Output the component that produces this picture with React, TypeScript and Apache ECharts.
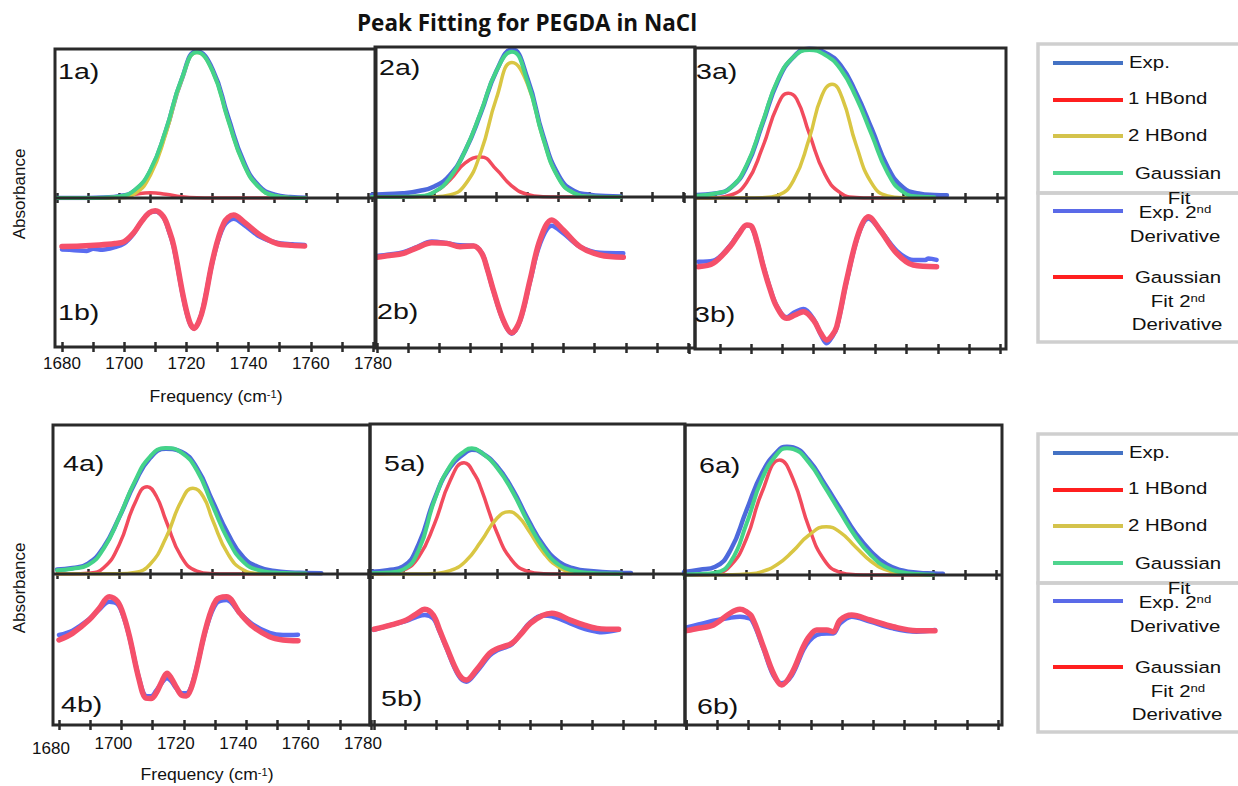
import React, { useEffect, useRef } from "react";
import * as echarts from "echarts";

type Pt = [number, number];

// ---------- texts ----------
const TITLE = "Peak Fitting for PEGDA in NaCl";
const Y_TITLE = "Absorbance";
const X_TITLE = "Frequency (cm";
const X_TITLE_SUP = "-1";
const X_MIN = 1680;
const X_MAX = 1780;
const X_STEP = 10;
const TICK_LABELS = [1680, 1700, 1720, 1740, 1760, 1780];
const SERIES_NAMES = ["Exp.", "1 HBond", "2 HBond", "Gaussian Fit", "Exp. 2nd Derivative", "Gaussian Fit 2nd Derivative"];
const PANEL_TAGS_A = ["1a)", "2a)", "3a)", "4a)", "5a)", "6a)"];
const PANEL_TAGS_B = ["1b)", "2b)", "3b)", "4b)", "5b)", "6b)"];

// ---------- data (x = frequency cm-1, y = % of sub-panel height) ----------
const P1A_EXP: Pt[] = [[1680,0],[1685,0],[1690,0],[1695,0.3],[1700,1.2],[1705,5],[1710,18],[1715,45],[1720,79],[1725,98.5],[1730,86.5],[1735,54.5],[1740,24.5],[1745,8],[1750,2.2],[1755,0.6],[1760,0.2]];
const P1A_HB1: Pt[] = [[1680,0],[1690,0],[1695,0],[1700,0.9],[1705,2.5],[1710,3.5],[1715,2.5],[1720,0.9],[1725,0.15],[1730,0],[1740,0],[1750,0],[1760,0]];
const P1A_HB2: Pt[] = [[1680,0],[1690,0],[1695,0],[1700,0.2],[1705,2.9],[1710,15.2],[1715,43.2],[1720,78.6],[1725,97.6],[1730,85.2],[1735,52.5],[1740,22.9],[1745,7.1],[1750,1.5],[1755,0.2],[1760,0]];
const P1A_FIT: Pt[] = [[1680,0],[1690,0],[1695,0.2],[1700,1.1],[1705,5.4],[1710,18.7],[1715,45.7],[1720,79.5],[1725,97.8],[1730,85.2],[1735,52.5],[1740,22.9],[1745,7.1],[1750,1.5],[1755,0.2],[1760,0]];
const P1B_EXP2: Pt[] = [[1680,65.5],[1684,65],[1688,64.5],[1690,66],[1693,65.3],[1697,67],[1700,69.5],[1703,76],[1705.5,84],[1708,90],[1710,91],[1712.6,87],[1714.5,77],[1716,66.5],[1719,33],[1721,16.5],[1722.5,12.5],[1724,17],[1725.5,27.5],[1728.7,60],[1732,81],[1735.2,86],[1738.5,82],[1743.7,74],[1749,70],[1754,69],[1758,68.5]];
const P1B_FIT2: Pt[] = [[1680,67.5],[1686,67.8],[1692,68.5],[1697,69.5],[1700,70.7],[1703,76.5],[1705.5,84],[1708,90],[1710,91.5],[1712.6,87.5],[1714.5,78],[1716,67.3],[1719,33.8],[1721,17],[1722.5,12.5],[1724,17],[1725.5,27],[1728.7,60.6],[1732,83],[1735.2,88.6],[1738.5,84],[1743.7,75.2],[1749,69.6],[1754,68.2],[1758,67.8]];

const P2A_EXP: Pt[] = [[1680,1.5],[1685,2],[1690,2.5],[1695,4],[1700,7],[1705,14.5],[1710,31],[1715,56],[1720,84],[1725,98.5],[1730,79],[1735,41],[1740,14.5],[1745,4],[1750,1.5],[1755,0.6],[1760,0.3]];
const P2A_HB1: Pt[] = [[1680,0],[1690,0],[1695,0.5],[1700,3.2],[1705,11.2],[1710,22.7],[1715,26.7],[1720,18.3],[1725,7.3],[1730,1.7],[1735,0.2],[1740,0],[1750,0],[1760,0]];
const P2A_HB2: Pt[] = [[1680,0],[1690,0],[1700,0.2],[1705,1.4],[1710,8.4],[1715,29.9],[1720,65.8],[1725,89.6],[1730,75.3],[1735,39.1],[1740,12.5],[1745,2.5],[1750,0.3],[1755,0],[1760,0]];
const P2A_FIT: Pt[] = [[1680,0],[1685,0],[1690,0.1],[1695,0.5],[1700,3.4],[1705,12.6],[1710,31.1],[1715,56.6],[1720,84.1],[1725,96.9],[1730,77],[1735,39.3],[1740,12.5],[1745,2.5],[1750,0.3],[1755,0],[1760,0]];
const P2B_EXP2: Pt[] = [[1680,61],[1684,62],[1688.5,63.5],[1693,67],[1697.6,70.5],[1702.4,69.5],[1706.7,68],[1711,67.8],[1713.7,63],[1715.5,52],[1717.4,38],[1720.6,18],[1723.3,9.5],[1726,18],[1729.2,44],[1732.4,69],[1736.2,81],[1739.9,76],[1745.3,67],[1751.7,63],[1759.2,62.7]];
const P2B_FIT2: Pt[] = [[1680,60.1],[1684,61.2],[1688.5,62.7],[1693,66.5],[1697.6,69.7],[1702.4,69.3],[1706.7,67.1],[1711,67.5],[1713.7,62.7],[1715.5,52],[1717.4,38.4],[1720.6,18.5],[1723.3,10.1],[1726,18.5],[1729.2,45],[1732.4,71.5],[1736.2,84.8],[1739.9,78.1],[1745.3,67.1],[1751.7,61.6],[1759.2,60.1]];

const P3A_EXP: Pt[] = [[1684,2],[1690,3],[1695,7],[1700,21],[1705,49],[1710,78],[1715,94],[1720,99.5],[1725,97],[1730,88.5],[1735,70],[1740,46],[1745,21],[1750,7],[1755,3],[1760,2],[1764,1.8]];
const P3A_HB1: Pt[] = [[1684,0],[1690,0.2],[1695,2],[1700,10.3],[1705,33.2],[1710,62.2],[1713.3,69.8],[1716,66],[1720,43.1],[1725,15.9],[1730,3.4],[1735,0.4],[1740,0],[1750,0],[1760,0]];
const P3A_HB2: Pt[] = [[1684,0],[1700,0],[1705,0.2],[1710,1.8],[1715,11.7],[1720,39.6],[1724,68],[1727.3,75.8],[1730.5,67],[1735,35.3],[1740,9.7],[1745,1.4],[1750,0.1],[1760,0]];
const P3A_FIT: Pt[] = [[1684,1.5],[1690,3],[1695,7],[1700,22],[1705,50],[1710,79],[1715,94],[1720,98.7],[1725,95.5],[1730,86],[1735,67],[1740,42],[1745,17],[1750,4],[1755,1],[1760,0.5]];
const P3B_EXP2: Pt[] = [[1683,57.8],[1687.8,58.5],[1693.2,68.5],[1696,76.5],[1698.6,82],[1700.2,80.5],[1702,70],[1703.9,55],[1706,40.5],[1708.2,28.5],[1711.4,21],[1714.1,24.5],[1716.8,26.5],[1720,20],[1722.5,9],[1724.3,3.8],[1726,8],[1727.5,14],[1730.7,45],[1734.5,76],[1737.7,86.5],[1741.4,79],[1746.8,65],[1752.1,59],[1756,59],[1757,60],[1759.6,59]];
const P3B_FIT2: Pt[] = [[1683,54.5],[1687.8,56.8],[1693.2,67.8],[1696,76],[1698.6,82.1],[1700.2,81],[1702,70],[1703.9,54.5],[1706,40],[1708.2,28],[1711.4,20.3],[1714.1,22.5],[1716.8,24.7],[1720,19.2],[1722.5,10],[1724.3,6],[1726,9],[1727.5,14.8],[1730.7,45.7],[1734.5,76.6],[1737.7,87.6],[1741.4,78.8],[1746.8,63.4],[1752.1,55.6],[1759.6,54.5]];

const P4A_EXP: Pt[] = [[1680,3],[1685,4],[1690,7],[1695,18],[1700,38],[1705,61],[1710,78],[1715,84],[1720,82],[1725,71],[1730,49],[1735,27],[1740,11],[1745,4.5],[1750,2],[1755,1],[1760,0.7],[1765,0.5]];
const P4A_HB1: Pt[] = [[1680,0],[1685,0],[1690,0.5],[1695,4.2],[1700,19.7],[1705,47.3],[1709,58.6],[1712,52],[1715,36.1],[1720,11.5],[1725,1.9],[1730,0.2],[1735,0],[1760,0]];
const P4A_HB2: Pt[] = [[1680,0],[1700,0.1],[1705,1],[1710,6.7],[1715,24.1],[1720,49.1],[1723.7,57.5],[1727,52],[1730,36.4],[1735,13.3],[1740,2.7],[1745,0.3],[1750,0],[1760,0]];
const P4A_FIT: Pt[] = [[1680,2.5],[1685,3.5],[1690,6],[1695,17],[1700,38],[1705,62],[1710,79],[1715,84.5],[1720,81.5],[1725,69.5],[1730,46],[1735,23],[1740,8],[1745,2.5],[1750,1],[1755,0.5],[1760,0.3]];
const P4B_EXP2: Pt[] = [[1680,59.6],[1684.3,62.5],[1689.6,70],[1692.9,76.5],[1696.1,81.7],[1698.8,80],[1700.8,71],[1702.6,58],[1705.7,30.5],[1707.9,19.2],[1709.5,19],[1711.1,22.5],[1713,28],[1714.6,31],[1716,29],[1717.5,24.5],[1719.5,21],[1720.8,21],[1722.3,25],[1724,37],[1727.2,64],[1730.4,80.5],[1733.7,82.8],[1738,74],[1742.2,66.5],[1747.5,61],[1751.8,59.6],[1756.6,59.8]];
const P4B_FIT2: Pt[] = [[1680,56.3],[1684.3,60.7],[1689.6,69.5],[1692.9,77.3],[1696.1,85],[1698.8,81.7],[1700.8,72],[1702.6,58.5],[1705.7,29.8],[1707.9,17.7],[1709.5,17.5],[1711.1,21],[1713,29],[1714.6,34.2],[1716,31],[1717.5,25.4],[1719.5,19.5],[1720.8,19.2],[1722.3,24],[1724,36.4],[1727.2,65.1],[1730.4,82.8],[1733.7,85],[1738,74],[1742.2,65.1],[1747.5,58.5],[1751.8,56.3],[1756.6,55.8]];

const P5A_EXP: Pt[] = [[1680,1.5],[1685,2.5],[1690,5],[1695,20],[1700,50],[1705,71],[1710,81],[1712,82.9],[1715,81],[1720,72],[1725,56.5],[1730,36.5],[1735,19],[1740,8],[1745,3.5],[1750,2],[1755,1.2],[1760,0.8],[1763,0.6]];
const P5A_HB1: Pt[] = [[1680,0],[1685,0.4],[1690,2.5],[1695,11.5],[1700,33.3],[1705,62],[1709.5,74.2],[1713,66],[1715,56.7],[1720,27.8],[1725,8.8],[1730,1.8],[1735,0.2],[1740,0],[1760,0]];
const P5A_HB2: Pt[] = [[1680,0],[1695,0],[1700,0.4],[1705,2.2],[1710,8.5],[1715,21.9],[1720,37],[1724,41.5],[1727,38],[1730,29.7],[1735,14.1],[1740,4.4],[1745,0.9],[1750,0.1],[1760,0]];
const P5A_FIT: Pt[] = [[1680,0.5],[1685,1],[1690,3],[1695,16],[1700,49],[1705,72],[1710,82.5],[1712,83.8],[1715,81],[1720,71],[1725,55],[1730,34.5],[1735,17],[1740,6],[1745,2],[1750,0.8],[1755,0.3],[1760,0.1]];
const P5B_EXP2: Pt[] = [[1680,63],[1685,66],[1690.4,69],[1693.5,71.5],[1696.3,72.8],[1699,70.5],[1701,62],[1703.2,51],[1707,33],[1709.6,28.7],[1712.8,35],[1717.1,46],[1719.5,49.5],[1721.5,51],[1724.2,53.5],[1727,60.5],[1730.1,68],[1734,72.5],[1737,72],[1742.9,67.3],[1747,64],[1751.5,61.8],[1753,61.4],[1758.4,63]];
const P5B_FIT2: Pt[] = [[1680,63.4],[1685,66],[1690.4,69.5],[1693.5,73.5],[1696.3,76.6],[1699,72.8],[1701,63],[1703.2,51.9],[1707,34.2],[1709.6,29.8],[1712.8,36.4],[1717.1,47.5],[1719.5,50.5],[1721.5,51.9],[1724.2,54.1],[1727,60],[1730.1,67.3],[1734,72.5],[1737,74],[1742.9,69.5],[1747,66.5],[1751.5,64],[1758.4,63.4]];

const P6A_EXP: Pt[] = [[1680,2],[1685,3.5],[1690,5.5],[1695,17],[1700,43],[1705,68],[1710,82.5],[1713,85.5],[1715,85],[1720,76.5],[1725,61],[1730,44.5],[1735,28],[1740,15.5],[1745,7],[1750,3],[1755,1.5],[1760,1],[1763,0.8]];
const P6A_HB1: Pt[] = [[1680,0],[1685,0.1],[1690,1],[1695,6.4],[1700,24.2],[1705,55.3],[1710.7,76.7],[1715,63.7],[1720,32.1],[1725,9.8],[1730,1.8],[1735,0.2],[1740,0],[1760,0]];
const P6A_HB2: Pt[] = [[1680,0],[1695,0.1],[1700,0.6],[1705,2.3],[1710,7.2],[1715,16.1],[1720,26.5],[1725.6,32.2],[1730,28.6],[1735,18.7],[1740,9],[1745,3.2],[1750,0.8],[1755,0.2],[1760,0]];
const P6A_FIT: Pt[] = [[1680,0.3],[1685,0.6],[1690,1.5],[1695,9],[1700,34],[1705,64],[1710,81],[1713,84.5],[1715,84],[1720,75],[1725,59],[1730,42],[1735,25.5],[1740,13],[1745,5],[1750,1.8],[1755,0.6],[1760,0.2]];
const P6B_EXP2: Pt[] = [[1680.2,65.1],[1684,67],[1688.8,69.5],[1694.1,71.5],[1697.3,72.2],[1699,71.8],[1701.1,70],[1704.8,51],[1708,33],[1710.7,27.8],[1713.9,33],[1717.6,50],[1719.5,56],[1721.9,60],[1725.1,61],[1727.2,61],[1729.4,67.8],[1733.1,72.2],[1739,68.9],[1746.4,64.4],[1753.9,62.2],[1759.8,63.3]];
const P6B_FIT2: Pt[] = [[1680.2,62.9],[1684,64.5],[1688.8,66.7],[1694.1,74.5],[1697.3,77.1],[1699,76],[1701.1,72.2],[1704.8,52.2],[1708,34.5],[1710.7,26.7],[1713.9,34.5],[1717.6,52.2],[1719.5,59],[1721.9,63.3],[1725.1,63.3],[1727.2,62.2],[1729.4,70],[1733.1,73.3],[1739,70],[1746.4,65.5],[1753.9,62.9],[1759.8,62.9]];

const PANEL_DATA = [
  { exp: P1A_EXP, hb1: P1A_HB1, hb2: P1A_HB2, fit: P1A_FIT, exp2: P1B_EXP2, fit2: P1B_FIT2 },
  { exp: P2A_EXP, hb1: P2A_HB1, hb2: P2A_HB2, fit: P2A_FIT, exp2: P2B_EXP2, fit2: P2B_FIT2 },
  { exp: P3A_EXP, hb1: P3A_HB1, hb2: P3A_HB2, fit: P3A_FIT, exp2: P3B_EXP2, fit2: P3B_FIT2 },
  { exp: P4A_EXP, hb1: P4A_HB1, hb2: P4A_HB2, fit: P4A_FIT, exp2: P4B_EXP2, fit2: P4B_FIT2 },
  { exp: P5A_EXP, hb1: P5A_HB1, hb2: P5A_HB2, fit: P5A_FIT, exp2: P5B_EXP2, fit2: P5B_FIT2 },
  { exp: P6A_EXP, hb1: P6A_HB1, hb2: P6A_HB2, fit: P6A_FIT, exp2: P6B_EXP2, fit2: P6B_FIT2 },
];

// ---------- layout & style ----------
const FONT = "'Liberation Sans', Arial, sans-serif";
const INK = "#2a2a2a";
const C_EXP = "#4d69dc";
const C_HB1 = "#f24b5d";
const C_HB2 = "#d9c643";
const C_FIT = "#44d389";
const C_EXP2 = "#5a6cf0";
const C_FIT2 = "#f5506a";
const LEGEND_COLORS = ["#4472c4", "#ff1f1f", "#d4c34c", "#4fd48e", "#5a6ae8", "#ff1f1f"];

const PANELS = [
  { f: { l: 55, r: 376, t: 49, m: 198, b: 347 }, aL: 57, aW: 311, bL: 62, bW: 311, lab: 1, tagA: [58, 71], tagB: [58, 312] },
  { f: { l: 375, r: 695, t: 47, m: 197, b: 348 }, aL: 372, aW: 311, bL: 377, bW: 311, lab: 0, tagA: [379, 67], tagB: [377, 311] },
  { f: { l: 695, r: 1006, t: 48, m: 198, b: 349 }, aL: 684, aW: 313, bL: 689, bW: 311, lab: 0, tagA: [696, 71], tagB: [694, 314] },
  { f: { l: 53, r: 370, t: 425, m: 574, b: 725 }, aL: 57, aW: 311, bL: 59, bW: 312, lab: 2, tagA: [63, 463], tagB: [61, 704] },
  { f: { l: 370, r: 685, t: 424, m: 574, b: 725 }, aL: 372, aW: 312, bL: 374, bW: 312, lab: 0, tagA: [384, 463], tagB: [381, 698] },
  { f: { l: 685, r: 1002, t: 425, m: 575, b: 725 }, aL: 684, aW: 312, bL: 686, bW: 312, lab: 0, tagA: [699, 465], tagB: [697, 706] },
];

function txt(text: string, x: number, y: number, o: any = {}) {
  const align = o.align || "left";
  return {
    type: "text",
    x,
    y,
    z: 30,
    rotation: o.rotation || 0,
    scaleX: o.sx || 1,
    silent: true,
    style: {
      text,
      fill: o.fill || "#111",
      fontSize: o.size || 16,
      fontFamily: o.family || FONT,
      fontWeight: o.weight || "normal",
      align,
      textAlign: align,
      verticalAlign: "middle",
      textVerticalAlign: "middle",
      rich: o.rich,
    },
  };
}

function buildOption() {
  const grid: any[] = [];
  const xAxis: any[] = [];
  const yAxis: any[] = [];
  const series: any[] = [];
  const graphic: any[] = [];

  const tickLine = { color: INK, width: 2.5 };
  const mkX = (gi: number, inside: boolean, lab: number) => {
    let axisLabel: any = { show: false };
    if (lab && !inside) {
      axisLabel = {
        show: true,
        fontSize: 17,
        fontFamily: FONT,
        color: "#111",
        margin: lab === 1 ? 8 : 10,
        padding: lab === 2 ? [0, 16, 0, 0] : 0,
        formatter: (v: number) =>
          TICK_LABELS.indexOf(v) >= 0 ? (lab === 2 && v === 1680 ? `{lo|${v}}` : `${v}`) : "",
        rich: { lo: { fontSize: 17, fontFamily: FONT, color: "#111", padding: [5, 0, 0, 0] } },
      };
    }
    return {
      type: "value",
      gridIndex: gi,
      min: X_MIN,
      max: X_MAX,
      interval: X_STEP,
      position: "bottom",
      axisLine: { show: false, onZero: false },
      splitLine: { show: false },
      axisTick: { show: true, inside, length: 5, lineStyle: tickLine },
      axisLabel,
    };
  };

  PANELS.forEach((p, i) => {
    const f = p.f;
    grid.push({ left: p.aL, width: p.aW, top: f.t, height: f.m - f.t, outerBoundsMode: "none" });
    grid.push({ left: p.bL, width: p.bW, top: f.m, height: f.b - f.m, outerBoundsMode: "none" });
    xAxis.push(mkX(2 * i, false, 0));
    xAxis.push(mkX(2 * i, true, 0));
    xAxis.push(mkX(2 * i + 1, false, p.lab));
    xAxis.push(mkX(2 * i + 1, true, 0));
    yAxis.push({ type: "value", gridIndex: 2 * i, min: 0, max: 100, show: false });
    yAxis.push({ type: "value", gridIndex: 2 * i + 1, min: 0, max: 100, show: false });

    const d = PANEL_DATA[i];
    const mk = (name: string, data: Pt[], top: boolean, color: string, width: number, z: number) => ({
      type: "line",
      name,
      data,
      xAxisIndex: top ? 4 * i : 4 * i + 2,
      yAxisIndex: top ? 2 * i : 2 * i + 1,
      showSymbol: false,
      symbol: "none",
      smooth: top ? 0.5 : 0.35,
      silent: true,
      lineStyle: { color, width, cap: "round", join: "round" },
      z,
    });
    series.push(mk(SERIES_NAMES[0], d.exp, true, C_EXP, 4.5, 2));
    series.push(mk(SERIES_NAMES[1], d.hb1, true, C_HB1, 3.5, 3));
    series.push(mk(SERIES_NAMES[2], d.hb2, true, C_HB2, 3.5, 3));
    series.push(mk(SERIES_NAMES[3], d.fit, true, C_FIT, 4, 4));
    series.push(mk(SERIES_NAMES[4], d.exp2, false, C_EXP2, 4.5, 2));
    series.push(mk(SERIES_NAMES[5], d.fit2, false, C_FIT2, 5.5, 3));

    // frame
    graphic.push({
      type: "rect",
      z: 20,
      silent: true,
      shape: { x: f.l, y: f.t, width: f.r - f.l, height: f.b - f.t },
      style: { fill: "none", stroke: INK, lineWidth: 3 },
    });
    graphic.push({
      type: "line",
      z: 20,
      silent: true,
      shape: { x1: f.l, y1: f.m, x2: f.r, y2: f.m },
      style: { stroke: INK, lineWidth: 3 },
    });
    graphic.push(txt(PANEL_TAGS_A[i], p.tagA[0], p.tagA[1], { size: 22, sx: 1.3 }));
    graphic.push(txt(PANEL_TAGS_B[i], p.tagB[0], p.tagB[1], { size: 22, sx: 1.3 }));
  });

  // title
  graphic.push(txt(TITLE, 527, 22, { size: 22.5, weight: "bold", family: "'Open Sans', 'Noto Sans', sans-serif", align: "center" }));

  // axis titles
  const supRich = {
    a: { fontSize: 16, fontFamily: FONT, color: "#111", fill: "#111" },
    s: { fontSize: 10, fontFamily: FONT, color: "#111", fill: "#111", verticalAlign: "top" },
  };
  [[216, 397], [207, 775]].forEach(([x, y]) => {
    graphic.push(txt(`{a|${X_TITLE}}{s|${X_TITLE_SUP}}{a|)}`, x, y, { align: "center", sx: 1.1, rich: supRich }));
  });
  [[19, 194], [19, 588]].forEach(([x, y]) => {
    graphic.push(txt(Y_TITLE, x, y, { align: "center", size: 17, rotation: Math.PI / 2 }));
  });

  // legends
  const legRich = {
    t: { fontSize: 17, fontFamily: FONT, color: "#111", fill: "#111" },
    s: { fontSize: 11, fontFamily: FONT, color: "#111", fill: "#111", verticalAlign: "top" },
  };
  const lineYs = [63, 100, 136, 173, 211, 277];
  const legTexts: any[] = [
    [SERIES_NAMES[0], 1129, 62, "left"],
    [SERIES_NAMES[1], 1128, 98, "left"],
    [SERIES_NAMES[2], 1128, 135, "left"],
    ["Gaussian", 1178, 173, "center"],
    ["Fit", 1179, 198, "center"],
    ["{t|Exp. 2}{s|nd}", 1175, 212, "center"],
    ["Derivative", 1175, 236, "center"],
    ["Gaussian", 1178, 277, "center"],
    ["{t|Fit 2}{s|nd}", 1178, 301, "center"],
    ["Derivative", 1177, 324, "center"],
  ];
  [0, 390].forEach((dy) => {
    graphic.push({ type: "rect", z: 15, silent: true, shape: { x: 1038, y: 44 + dy, width: 215, height: 149 }, style: { fill: "none", stroke: "#cfcfcf", lineWidth: 3.5 } });
    graphic.push({ type: "rect", z: 15, silent: true, shape: { x: 1038, y: 193 + dy, width: 215, height: 149 }, style: { fill: "none", stroke: "#cfcfcf", lineWidth: 3.5 } });
    lineYs.forEach((ly, k) => {
      graphic.push({ type: "line", z: 16, silent: true, shape: { x1: 1053, y1: ly + dy, x2: 1123, y2: ly + dy }, style: { stroke: LEGEND_COLORS[k], lineWidth: 4 } });
    });
    legTexts.forEach(([t, x, y, al]) => {
      graphic.push(txt(t, x, y + dy, { size: 17, sx: 1.2, align: al, rich: legRich }));
    });
  });

  return {
    animation: false,
    backgroundColor: "#ffffff",
    grid,
    xAxis,
    yAxis,
    series,
    graphic: { elements: graphic },
  };
}

export default function App() {
  const ref = useRef<HTMLDivElement>(null);
  useEffect(() => {
    if (!ref.current) return;
    const chart = echarts.init(ref.current, null, { renderer: "svg", width: 1238, height: 786 });
    chart.setOption(buildOption() as any);
    return () => chart.dispose();
  }, []);
  return (
    <div
      ref={ref}
      style={{ position: "absolute", left: 0, top: 0, width: 1238, height: 786, background: "#fff" }}
    />
  );
}
